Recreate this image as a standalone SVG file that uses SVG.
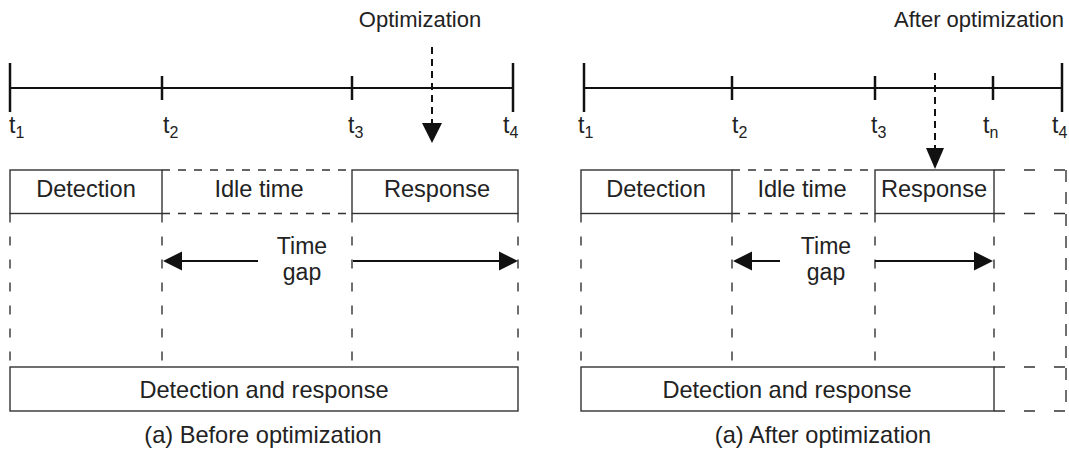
<svg xmlns="http://www.w3.org/2000/svg" width="1069" height="455" viewBox="0 0 1069 455">
<defs>
<style>
text{font-family:"Liberation Sans",Arial,sans-serif;fill:#222;}
.lbl{font-size:23.6px;text-anchor:middle;}
.tk{font-size:23px;}
.sub{font-size:16px;}
.axis{stroke:#111;stroke-width:2;fill:none;}
.tick{stroke:#111;stroke-width:2.5;}
.box{fill:none;stroke:#333;stroke-width:1.4;}
.dh{fill:none;stroke:#333;stroke-width:1.4;stroke-dasharray:8 8;}
.dv{fill:none;stroke:#333;stroke-width:1.4;stroke-dasharray:9 14;}
.dx{fill:none;stroke:#333;stroke-width:1.4;stroke-dasharray:11 19;}
.dxv{fill:none;stroke:#333;stroke-width:1.4;stroke-dasharray:12 10;}
.arr{stroke:#111;stroke-width:2;fill:none;}
.opt{stroke:#111;stroke-width:2;fill:none;stroke-dasharray:7 5;}
.head{fill:#111;}
</style>
</defs>
<rect width="1069" height="455" fill="#fff"/>

<g id="timeline-before">
<line class="axis" x1="10" y1="88" x2="513" y2="88"/>
<line class="tick" x1="10" y1="63" x2="10" y2="112"/>
<line class="tick" x1="162" y1="76" x2="162" y2="100"/>
<line class="tick" x1="352" y1="76" x2="352" y2="100"/>
<line class="tick" x1="513" y1="63" x2="513" y2="112"/>
<text class="tk" x="9" y="133">t<tspan class="sub" dy="5">1</tspan></text>
<text class="tk" x="163" y="133">t<tspan class="sub" dy="5">2</tspan></text>
<text class="tk" x="348" y="133">t<tspan class="sub" dy="5">3</tspan></text>
<text class="tk" x="503" y="133">t<tspan class="sub" dy="5">4</tspan></text>
</g>

<g id="opt-label-before">
<text class="lbl" x="420" y="27" style="font-size:22px">Optimization</text>
</g>

<g id="detection-before">
<rect class="box" x="10" y="170" width="152" height="43.5"/>
<text class="lbl" x="86" y="197">Detection</text>
</g>
<g id="idle-before">
<line class="dh" x1="162" y1="170" x2="352" y2="170"/>
<line class="dh" x1="162" y1="213.5" x2="352" y2="213.5"/>
<text class="lbl" x="259" y="197">Idle time</text>
</g>
<g id="response-before">
<rect class="box" x="352" y="170" width="166" height="43.5"/>
<text class="lbl" x="437" y="197">Response</text>
</g>
<g id="dr-before">
<rect class="box" x="10" y="367" width="508" height="44"/>
<text class="lbl" x="264" y="398">Detection and response</text>
</g>
<g id="gap-label-before">
<text class="lbl" x="302" y="254" style="font-size:23px">Time</text>
<text class="lbl" x="302" y="280" style="font-size:23px">gap</text>
</g>
<g id="caption-before">
<text class="lbl" x="263" y="443">(a) Before optimization</text>
</g>

<g id="timeline-after">
<line class="axis" x1="584" y1="88" x2="1062" y2="88"/>
<line class="tick" x1="584" y1="63" x2="584" y2="112"/>
<line class="tick" x1="732" y1="76" x2="732" y2="100"/>
<line class="tick" x1="875" y1="76" x2="875" y2="100"/>
<line class="tick" x1="993" y1="76" x2="993" y2="100"/>
<line class="tick" x1="1062" y1="63" x2="1062" y2="112"/>
<text class="tk" x="578" y="133">t<tspan class="sub" dy="5">1</tspan></text>
<text class="tk" x="732" y="133">t<tspan class="sub" dy="5">2</tspan></text>
<text class="tk" x="871" y="133">t<tspan class="sub" dy="5">3</tspan></text>
<text class="tk" x="983" y="133">t<tspan class="sub" dy="5">n</tspan></text>
<text class="tk" x="1052" y="133">t<tspan class="sub" dy="5">4</tspan></text>
</g>

<g id="opt-label-after">
<text x="1064" y="27" style="font-size:22px;text-anchor:end">After optimization</text>
</g>

<g id="detection-after">
<rect class="box" x="581" y="170" width="151" height="43.5"/>
<text class="lbl" x="656" y="197">Detection</text>
</g>
<g id="idle-after">
<line class="dh" x1="732" y1="170" x2="875" y2="170"/>
<line class="dh" x1="732" y1="213.5" x2="875" y2="213.5"/>
<text class="lbl" x="802" y="197">Idle time</text>
</g>
<g id="response-after">
<rect class="box" x="875" y="170" width="119" height="43.5"/>
<text class="lbl" x="934" y="197">Response</text>
</g>
<g id="extension-after">
<line class="dx" x1="994" y1="170" x2="1066" y2="170"/>
<line class="dx" x1="994" y1="213.5" x2="1066" y2="213.5"/>
<line class="dx" x1="994" y1="367" x2="1066" y2="367"/>
<line class="dx" x1="994" y1="411" x2="1066" y2="411"/>
<line class="dxv" x1="1066" y1="170" x2="1066" y2="411"/>
</g>
<g id="dr-after">
<rect class="box" x="581" y="367" width="413" height="44"/>
<text class="lbl" x="787" y="398">Detection and response</text>
</g>
<g id="gap-label-after">
<text class="lbl" x="826" y="254" style="font-size:23px">Time</text>
<text class="lbl" x="826" y="280" style="font-size:23px">gap</text>
</g>
<g id="caption-after">
<text class="lbl" x="823" y="443">(a) After optimization</text>
</g>

<g id="connectors">
<line class="dv" x1="10" y1="213.5" x2="10" y2="367"/>
<line class="dv" x1="162" y1="213.5" x2="162" y2="367"/>
<line class="dv" x1="352" y1="213.5" x2="352" y2="367"/>
<line class="dv" x1="518" y1="213.5" x2="518" y2="367"/>
<line class="dv" x1="581" y1="213.5" x2="581" y2="367"/>
<line class="dv" x1="732" y1="213.5" x2="732" y2="367"/>
<line class="dv" x1="875" y1="213.5" x2="875" y2="367"/>
<line class="dv" x1="994" y1="213.5" x2="994" y2="367"/>

<line class="opt" x1="432" y1="47" x2="432" y2="124"/>
<polygon class="head" points="422,123 442,123 432,143"/>
<line class="opt" x1="935" y1="73" x2="935" y2="149"/>
<polygon class="head" points="926,148 944,148 935,169"/>

<line class="arr" x1="258" y1="261" x2="180" y2="261"/>
<polygon class="head" points="163,261 182,251.5 182,270.5"/>
<line class="arr" x1="353" y1="261" x2="500" y2="261"/>
<polygon class="head" points="518,261 499,251.5 499,270.5"/>
<line class="arr" x1="780" y1="261" x2="750" y2="261"/>
<polygon class="head" points="733,261 752,251.5 752,270.5"/>
<line class="arr" x1="875" y1="261" x2="976" y2="261"/>
<polygon class="head" points="993,261 974,251.5 974,270.5"/>
</g>
</svg>
